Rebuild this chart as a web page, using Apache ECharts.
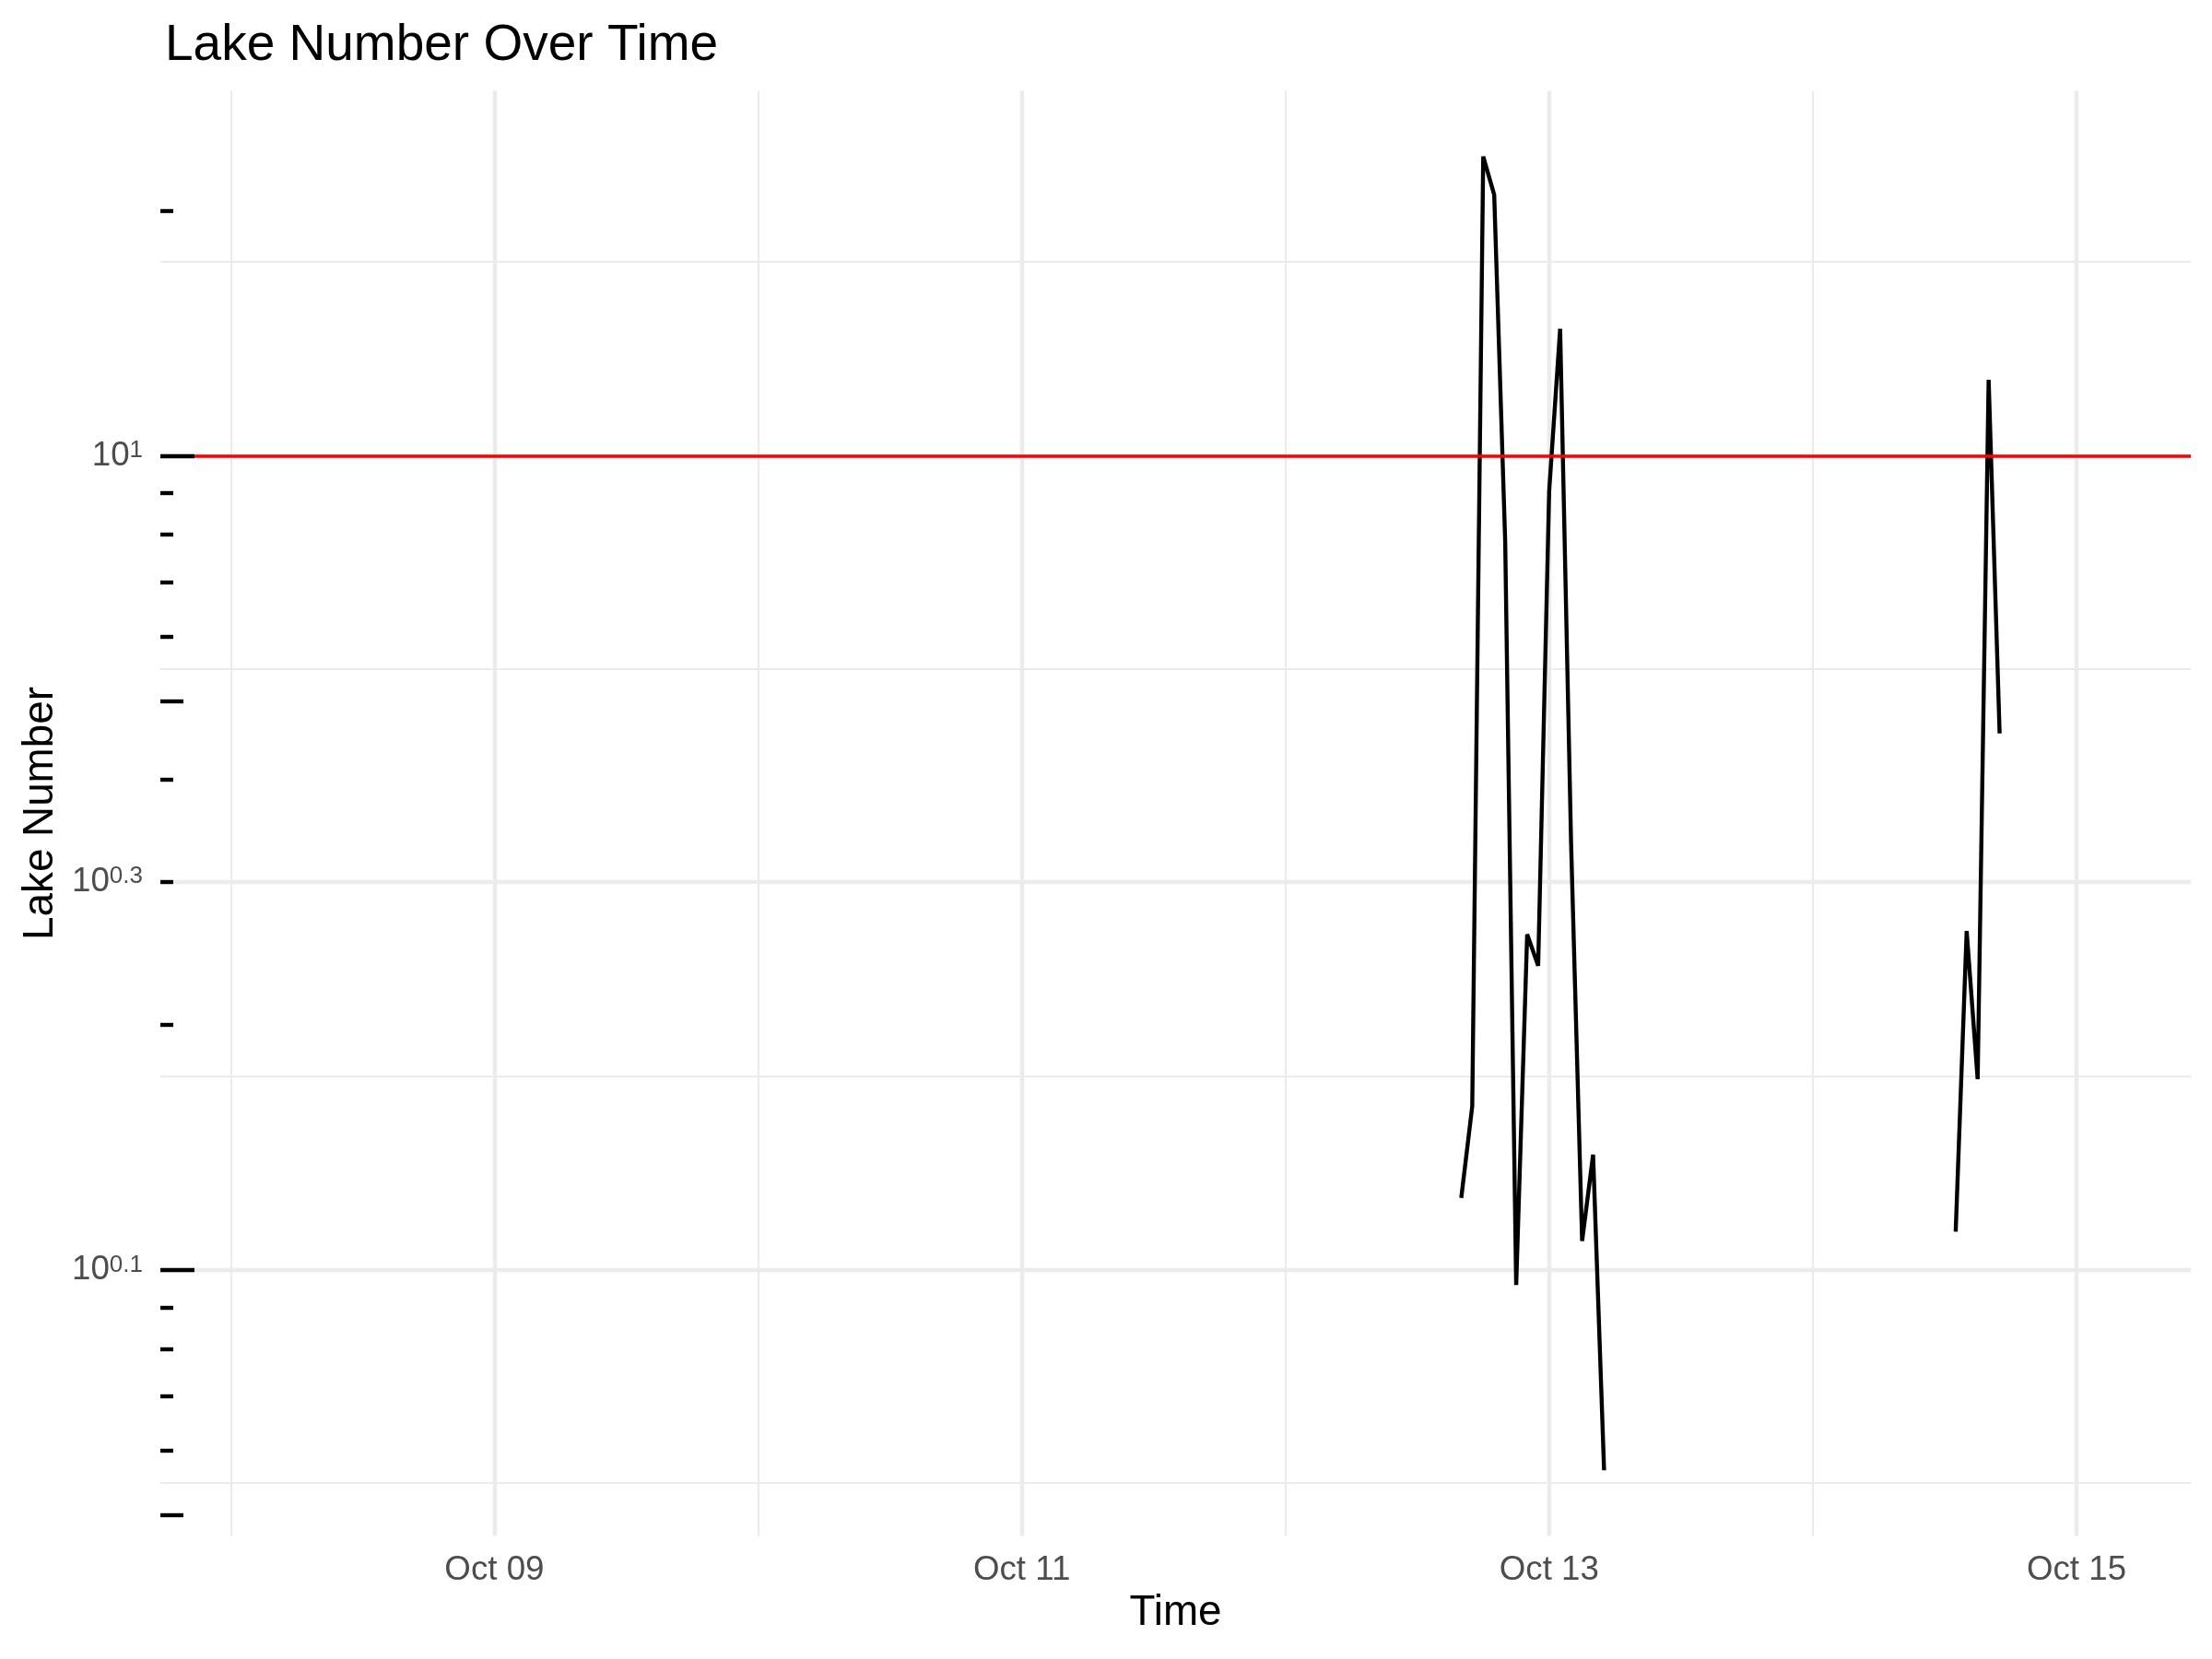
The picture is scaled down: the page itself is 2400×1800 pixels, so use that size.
<!DOCTYPE html>
<html><head><meta charset="utf-8">
<script src="https://cdn.jsdelivr.net/npm/echarts@6/dist/echarts.min.js"></script>
<style>html,body{margin:0;padding:0;background:#fff}#c{width:2400px;height:1800px}</style>
</head><body><div id="c"></div>
<script>
// ---------- data ----------
const chartTitle = 'Lake Number Over Time';
const xTitle = 'Time';
const yTitle = 'Lake Number';
const recordStart = '2023-10-08T02:00:00Z';
const recordEnd = '2023-10-15T02:00:00Z';
const run1Times = ['2023-10-12T16:00:00Z','2023-10-12T17:00:00Z','2023-10-12T18:00:00Z','2023-10-12T19:00:00Z',
  '2023-10-12T20:00:00Z','2023-10-12T21:00:00Z','2023-10-12T22:00:00Z','2023-10-12T23:00:00Z',
  '2023-10-13T00:00:00Z','2023-10-13T01:00:00Z','2023-10-13T02:00:00Z','2023-10-13T03:00:00Z',
  '2023-10-13T04:00:00Z','2023-10-13T05:00:00Z'];
const run1Values = [0.1227,0.1590,2.331,2.091,0.7843,0.0959,0.2584,0.2365,0.9046,1.432,0.3332,0.1086,0.1386,0.0568];
const run2Times = ['2023-10-14T13:00:00Z','2023-10-14T14:00:00Z','2023-10-14T15:00:00Z','2023-10-14T16:00:00Z','2023-10-14T17:00:00Z'];
const run2Values = [0.1115,0.2609,0.1716,1.240,0.4561];
const thresholdValue = 1;
const xMajorTicks = ['2023-10-09T00:00:00Z','2023-10-11T00:00:00Z','2023-10-13T00:00:00Z','2023-10-15T00:00:00Z'];
const xMinorTicks = ['2023-10-08T00:00:00Z','2023-10-10T00:00:00Z','2023-10-12T00:00:00Z','2023-10-14T00:00:00Z'];
const yMajorBreaks = [0.1, 0.3, 1];
const yMinorBreaks = [0.05477, 0.1732, 0.5477, 1.732];
const logTicksLong = [0.1, 1];
const logTicksMid = [0.05, 0.5];
const logTicksShort = [0.06,0.07,0.08,0.09,0.2,0.3,0.4,0.6,0.7,0.8,0.9,2,3,4];
const monthNames = ['Jan','Feb','Mar','Apr','May','Jun','Jul','Aug','Sep','Oct','Nov','Dec'];

// ---------- build ----------
const FONT = 'Liberation Sans, Arial, Helvetica, sans-serif';
const toPts = (times, vals) => times.map((t, i) => [Date.parse(t), vals[i]]);
const allVals = run1Values.concat(run2Values);
const lo = Math.log10(Math.min(...allVals)), hi = Math.log10(Math.max(...allVals));
const yPad = 0.05 * (hi - lo);
const yMin = Math.pow(10, lo - yPad), yMax = Math.pow(10, hi + yPad);
const xs = Date.parse(recordStart), xe = Date.parse(recordEnd);
const xPad = 0.05 * (xe - xs);
const xMin = xs - xPad, xMax = xe + xPad;
const xMajor = xMajorTicks.map(Date.parse), xMinor = xMinorTicks.map(Date.parse);

function fmtDate(v){ const d = new Date(v); return monthNames[d.getUTCMonth()] + ' ' + String(d.getUTCDate()).padStart(2,'0'); }
function fmtExp(v){ return '{b|10}{s|' + String(+(+v).toPrecision(6)) + '}'; }

const GRID = '#EBEBEB';
function hiddenX(extra){ return Object.assign({type:'value', min:xMin, max:xMax, position:'bottom', scale:true,
  axisLine:{show:false}, axisTick:{show:false}, axisLabel:{show:false}, splitLine:{show:false}}, extra); }
function hiddenY(extra){ return Object.assign({type:'log', logBase:10, min:yMin, max:yMax, position:'left',
  axisLine:{show:false}, axisTick:{show:false}, axisLabel:{show:false}, splitLine:{show:false}}, extra); }
function tickAxis(vals, len){ return hiddenY({z:10, axisTick:{show:true, inside:true, length:len, customValues:vals,
  lineStyle:{color:'#000', width:4.4, cap:'butt'}}}); }

const option = {
  animation:false,
  backgroundColor:'#fff',
  title:{text:chartTitle, left:174, top:17, textStyle:{fontFamily:FONT, fontSize:55, fontWeight:'normal', color:'#000'}},
  grid:{left:174, right:23, top:98.5, bottom:133.5, containLabel:false, outerBoundsMode:'none'},
  xAxis:[
    hiddenX({
      axisTick:{show:false, customValues:xMajor},
      axisLabel:{show:true, customValues:xMajor, formatter:fmtDate, color:'#4D4D4D', fontFamily:FONT, fontSize:36.7, margin:19},
      splitLine:{show:true, lineStyle:{color:GRID, width:4.4}},
      name:xTitle, nameLocation:'middle', nameGap:59,
      nameTextStyle:{fontFamily:FONT, fontSize:45.8, color:'#000'}
    }),
    hiddenX({axisTick:{show:false, customValues:xMinor}, splitLine:{show:true, lineStyle:{color:GRID, width:2.2}}})
  ],
  yAxis:[
    hiddenY({
      axisTick:{show:false, customValues:yMajorBreaks},
      axisLabel:{show:true, customValues:yMajorBreaks, formatter:fmtExp, margin:19,
        rich:{
          b:{fontFamily:FONT, fontSize:36.7, lineHeight:37, color:'#4D4D4D', verticalAlign:'bottom'},
          s:{fontFamily:FONT, fontSize:26, lineHeight:26, color:'#4D4D4D', verticalAlign:'top', padding:[0,0,17,0]}
        }},
      splitLine:{show:true, lineStyle:{color:GRID, width:4.4}},
      name:yTitle, nameLocation:'middle', nameGap:92, nameRotate:90,
      nameTextStyle:{fontFamily:FONT, fontSize:45.8, color:'#000'}
    }),
    hiddenY({axisTick:{show:false, customValues:yMinorBreaks}, splitLine:{show:true, lineStyle:{color:GRID, width:2.2}}}),
    tickAxis(logTicksShort, 14),
    tickAxis(logTicksMid, 25),
    tickAxis(logTicksLong, 37)
  ],
  series:[
    {type:'line', xAxisIndex:0, yAxisIndex:0, data:toPts(run1Times, run1Values), showSymbol:false, symbol:'none',
      lineStyle:{color:'#000', width:4.4}, z:3,
      markLine:{silent:true, symbol:['none','none'], label:{show:false},
        lineStyle:{color:'#FF0000', width:3.5, type:'solid'}, emphasis:{disabled:true}, data:[{yAxis:thresholdValue}]}},
    {type:'line', xAxisIndex:0, yAxisIndex:0, data:toPts(run2Times, run2Values), showSymbol:false, symbol:'none',
      lineStyle:{color:'#000', width:4.4}, z:3}
  ]
};
const chart = echarts.init(document.getElementById('c'), null, {renderer:'canvas'});
chart.setOption(option);
</script></body></html>
